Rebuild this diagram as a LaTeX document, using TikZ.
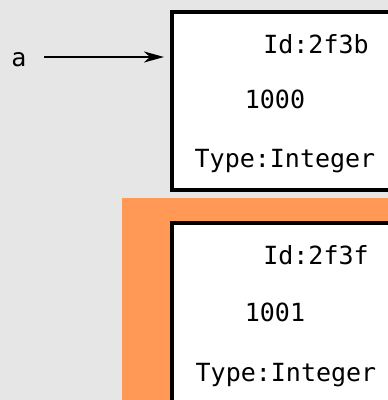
\documentclass[tikz,border=0pt]{standalone}
\usepackage{fontspec}
\setmonofont{DejaVu Sans Mono}
\usetikzlibrary{arrows.meta}
\definecolor{bggray}{HTML}{E6E6E6}
\definecolor{hilite}{HTML}{FF9955}
\begin{document}
\begin{tikzpicture}[x=1pt,y=-1pt,
  objbox/.style={draw=black, fill=white, line width=4pt, anchor=north west, inner sep=0pt},
  txt/.style={font=\ttfamily\fontsize{25}{25}\selectfont, inner sep=0pt, anchor=base},
  ptr/.style={line width=2.5pt, -{Stealth[length=20pt,width=11pt,inset=6pt]}}]
\useasboundingbox (0,0) rectangle (388,400);
\clip (0,0) rectangle (388,400);
\fill[bggray] (0,0) rectangle (388,400);
\fill[hilite] (122,198) rectangle (400,410);
% object boxes
\node[objbox, minimum width=224pt, minimum height=178pt] (b1) at (170,10) {};
\node[objbox, minimum width=224pt, minimum height=190pt] (b2) at (170,221) {};
% texts of box 1
\node[txt] (id1) at (316,53) {Id:2f3b};
\node[txt] (v1) at (275,108) {1000};
\node[txt] (t1) at (285,167) {Type:Integer};
% texts of box 2
\node[txt] (id2) at (316,264) {Id:2f3f};
\node[txt] (v2) at (275,321) {1001};
\node[txt] (t2) at (286,381) {Type:Integer};
% label and pointer
\node[txt] (a) at (19,66) {a};
\coordinate (tipend) at (b1.west |- 0,57);
\draw[ptr] (44,57) -- ([xshift=-6pt]tipend);
\end{tikzpicture}
\end{document}
